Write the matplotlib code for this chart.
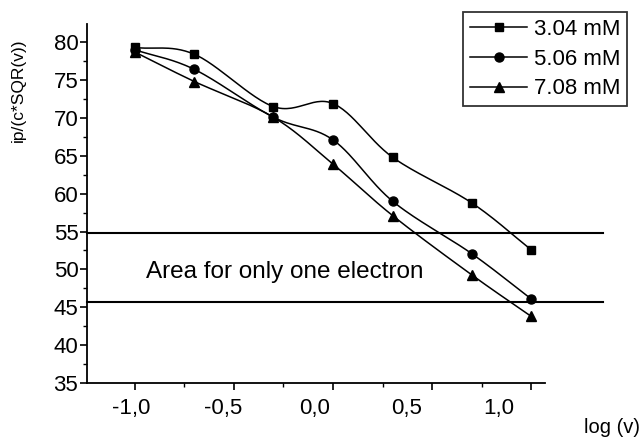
import numpy as np
import matplotlib
matplotlib.use('Agg')
import matplotlib.pyplot as plt
from matplotlib.ticker import MultipleLocator, FuncFormatter
from matplotlib.transforms import ScaledTranslation

plt.rcParams['font.family'] = ['Liberation Sans', 'DejaVu Sans']

logv = [-1.0, -0.699, -0.301, 0.0, 0.301, 0.699, 1.0]
c304 = [79.3, 78.4, 71.5, 71.9, 64.8, 58.8, 52.6]
c506 = [79.0, 76.4, 70.1, 67.1, 59.0, 52.1, 46.1]
c708 = [78.7, 74.8, 70.1, 63.9, 57.1, 49.3, 43.8]
labels = ['3.04 mM', '5.06 mM', '7.08 mM']
markers = ['s', 'o', '^']
msizes = [6, 6.5, 7]
band = [54.86, 45.7]


def smooth(x, y, n=30):
    # catmull-rom through the points
    x = np.asarray(x); y = np.asarray(y)
    px = np.concatenate([[2*x[0]-x[1]], x, [2*x[-1]-x[-2]]])
    py = np.concatenate([[2*y[0]-y[1]], y, [2*y[-1]-y[-2]]])
    xs, ys = [], []
    t = np.linspace(0, 1, n)
    for i in range(1, len(px)-2):
        for p, out in ((px, xs), (py, ys)):
            p0, p1, p2, p3 = p[i-1], p[i], p[i+1], p[i+2]
            out.extend(0.5*((2*p1) + (-p0+p2)*t + (2*p0-5*p1+4*p2-p3)*t**2
                            + (-p0+3*p1-3*p2+p3)*t**3))
    return np.array(xs), np.array(ys)


fig = plt.figure(figsize=(6.42, 4.43), dpi=100)
ax = fig.add_axes([0.135, 0.1354, 0.714, 0.8104])

handles = []
for ys, lab, m, ms in zip([c304, c506, c708], labels, markers, msizes):
    sx, sy = smooth(logv, ys)
    ax.plot(sx, sy, color='black', lw=1.1)
    ax.plot(logv, ys, ls='none', marker=m, ms=ms, color='black')
    h, = ax.plot([], [], color='black', lw=1.1, marker=m, ms=ms, label=lab)
    handles.append(h)

xmin, xmax = -1.243, 1.07
for b in band:
    ax.plot([xmin, 1.36], [b, b], color='black', lw=1.5, clip_on=False)

ax.text(-0.945, 49.6, 'Area for only one electron', fontsize=17.5, va='center')

ax.set_xlim(xmin, xmax)
ax.set_ylim(35, 82.4)
ax.spines['top'].set_visible(False)
ax.spines['right'].set_visible(False)
for s in ['left', 'bottom']:
    ax.spines[s].set_linewidth(1.3)

ax.xaxis.set_major_locator(MultipleLocator(0.5))
ax.xaxis.set_minor_locator(MultipleLocator(0.25))
ax.yaxis.set_major_locator(MultipleLocator(5))
ax.yaxis.set_minor_locator(MultipleLocator(2.5))
ax.xaxis.set_major_formatter(FuncFormatter(lambda v, p: f'{v:.1f}'.replace('.', ',')))
ax.tick_params(which='major', direction='out', length=5, width=1.2, labelsize=16)
ax.tick_params(which='minor', direction='out', length=3, width=1.0)
ax.tick_params(axis='x', pad=6)
ax.tick_params(axis='y', pad=1)

fig.canvas.draw()
# the scanned labels sit a bit left of their ticks
for t in ax.get_xticklabels():
    v = t.get_position()[0]
    dx = (-18 - 14.5 * v) / 100.0
    t.set_transform(t.get_transform() + ScaledTranslation(dx, 0, fig.dpi_scale_trans))

ax.set_ylabel('ip/(c*SQR(v))', fontsize=12.5)
ax.yaxis.set_label_coords(-0.133, 0.816)
ax.set_xlabel('log (v)', fontsize=14.5, va='center')
ax.xaxis.set_label_coords(1.146, -0.123)

leg = fig.legend(handles=handles, loc='upper left', bbox_to_anchor=(463/642, 1-12/443),
                 fontsize=16, frameon=True, fancybox=False, edgecolor='black',
                 handlelength=2.6, handletextpad=0.3, borderaxespad=0, borderpad=0.3,
                 labelspacing=0.4, numpoints=1)
leg.get_frame().set_linewidth(1.3)

fig.savefig('out.png', dpi=100)
